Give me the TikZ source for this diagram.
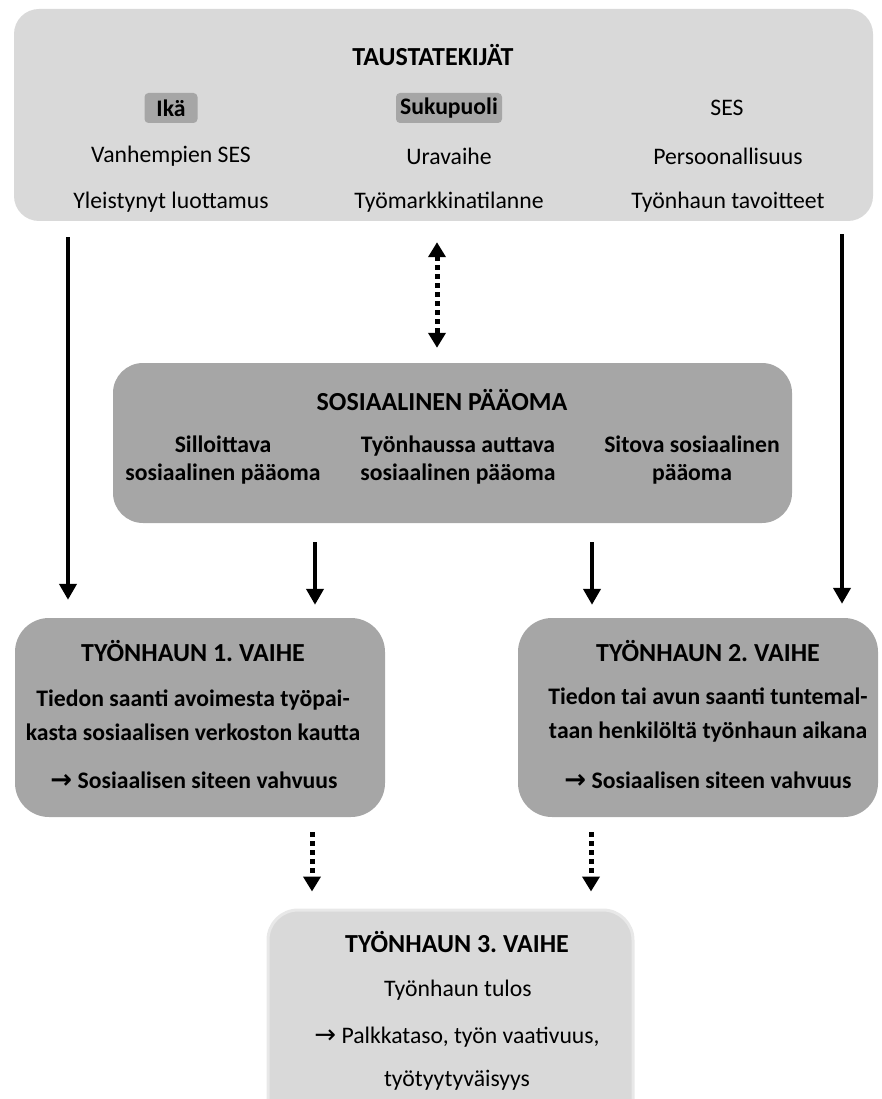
\documentclass[tikz,border=0pt]{standalone}
\usepackage{fontspec}
\setmainfont{Carlito}
\newfontfamily\symfont{DejaVu Sans}
\usetikzlibrary{arrows.meta,calc}
\definecolor{lightgr}{HTML}{D9D9D9}
\definecolor{midgr}{HTML}{A6A6A6}
\definecolor{glowgr}{HTML}{E8E8E8}
\newcommand{\rarr}{{\symfont\fontsize{26}{28}\selectfont →}}
\begin{document}
\frenchspacing
\begin{tikzpicture}[x=1pt,y=-1pt,
  panel/.style={rectangle, inner sep=0pt, draw=none},
  ttl/.style={font=\fontsize{26}{30}\selectfont\bfseries, inner sep=0pt},
  txt/.style={font=\fontsize{23.7}{28}\selectfont, inner sep=0pt},
  btxt/.style={font=\fontsize{23.7}{28}\selectfont\bfseries, inner sep=0pt, align=center},
  hl/.style={fill=midgr, rounded corners=4pt, inner sep=0pt, minimum height=30pt,
             font=\fontsize{23.7}{28}\selectfont\bfseries},
  solidarrow/.style={line width=4pt, -{Triangle[width=17pt,length=16pt]}},
  dotarrow/.style={line width=5pt, dash pattern=on 5pt off 4pt,
             -{Triangle[width=17pt,length=15pt]}},
  dotboth/.style={line width=5pt, dash pattern=on 5pt off 4pt,
             {Triangle[width=17pt,length=15pt]}-{Triangle[width=17pt,length=15pt]}}
]
\useasboundingbox (0,0) rectangle (881,1099);

% ---------- panels ----------
\node[panel, fill=lightgr, rounded corners=25pt, minimum width=859pt, minimum height=212pt]
  (top) at (443.5,115) {};
\node[panel, fill=midgr, rounded corners=30pt, minimum width=679pt, minimum height=160pt]
  (mid) at (452.5,443) {};
\node[panel, fill=midgr, rounded corners=34pt, minimum width=370pt, minimum height=199pt]
  (b1) at (200,717.5) {};
\node[panel, fill=midgr, rounded corners=34pt, minimum width=360pt, minimum height=199pt]
  (b2) at (698,717.5) {};
\node[panel, fill=lightgr, draw=glowgr, line width=3pt, rounded corners=30pt,
  minimum width=365pt, minimum height=220pt]
  (b3) at (450.5,1020) {};

% ---------- top panel text ----------
\node[ttl] (t0) at (433,55) {TAUSTATEKIJÄT};
\node[hl, minimum width=53pt] (ika) at (171,108) {Ikä};
\node[hl, minimum width=106pt] (suku) at (449,108) {Sukupuoli};
\node[txt] (ses) at (727,108) {SES};
\node[txt] (vses) at (171,156) {Vanhempien SES};
\node[txt] (ura) at (449,156) {Uravaihe};
\node[txt] (pers) at (728,156) {Persoonallisuus};
\node[txt] (yleis) at (171,202) {Yleistynyt luottamus};
\node[txt] (tyom) at (449,202) {Työmarkkinatilanne};
\node[txt] (tav) at (728,202) {Työnhaun tavoitteet};

% ---------- middle panel text ----------
\node[ttl] (m0) at (442,400) {SOSIAALINEN PÄÄOMA};
\node[btxt] (m1) at (223,460) {Silloittava\\sosiaalinen pääoma};
\node[btxt] (m2) at (458,460) {Työnhaussa auttava\\sosiaalinen pääoma};
\node[btxt] (m3) at (692,460) {Sitova sosiaalinen\\pääoma};

% ---------- phase 1 ----------
\node[ttl] (p1t) at (193,651) {TYÖNHAUN 1. VAIHE};
\node[btxt, font=\fontsize{23.7}{34}\selectfont\bfseries] (p1a) at (193,715)
  {Tiedon saanti avoimesta työpai-\\kasta sosiaalisen verkoston kautta};
\node[btxt] (p1b) at (194,780) {\rarr\ Sosiaalisen siteen vahvuus};

% ---------- phase 2 ----------
\node[ttl] (p2t) at (708,651) {TYÖNHAUN 2. VAIHE};
\node[btxt, font=\fontsize{23.7}{34}\selectfont\bfseries] (p2a) at (708,715)
  {Tiedon tai avun saanti tuntemal-\\taan henkilöltä työnhaun aikana};
\node[btxt] (p2b) at (708,780) {\rarr\ Sosiaalisen siteen vahvuus};

% ---------- phase 3 ----------
\node[ttl] (p3t) at (457,942) {TYÖNHAUN 3. VAIHE};
\node[txt] (p3a) at (458,990) {Työnhaun tulos};
\node[txt] (p3b) at (457,1037) {\rarr\ Palkkataso, työn vaativuus,};
\node[txt] (p3c) at (457,1080) {työtyytyväisyys};

% ---------- arrow columns ----------
\coordinate (xL) at (68,0);
\coordinate (xR) at (842,0);
\coordinate (xC) at (437,0);
\coordinate (xM1) at (315,0);
\coordinate (xM2) at (592,0);
\coordinate (xD1) at (312,0);
\coordinate (xD2) at (591,0);

% ---------- connectors ----------
\draw[solidarrow, shorten <=16pt, shorten >=18pt] (top.south -| xL) -- (b1.north -| xL);
\draw[solidarrow, shorten <=13pt, shorten >=14pt] (top.south -| xR) -- (b2.north -| xR);
\draw[dotboth, shorten <=21pt, shorten >=15pt] (top.south -| xC) -- (mid.north -| xC);
\draw[solidarrow, shorten <=19pt, shorten >=13pt] (mid.south -| xM1) -- (b1.north -| xM1);
\draw[solidarrow, shorten <=19pt, shorten >=13pt] (mid.south -| xM2) -- (b2.north -| xM2);
\draw[dotarrow, shorten <=15pt, shorten >=17pt] (b1.south -| xD1) -- (b3.north -| xD1);
\draw[dotarrow, shorten <=15pt, shorten >=17pt] (b2.south -| xD2) -- (b3.north -| xD2);
\end{tikzpicture}
\end{document}
